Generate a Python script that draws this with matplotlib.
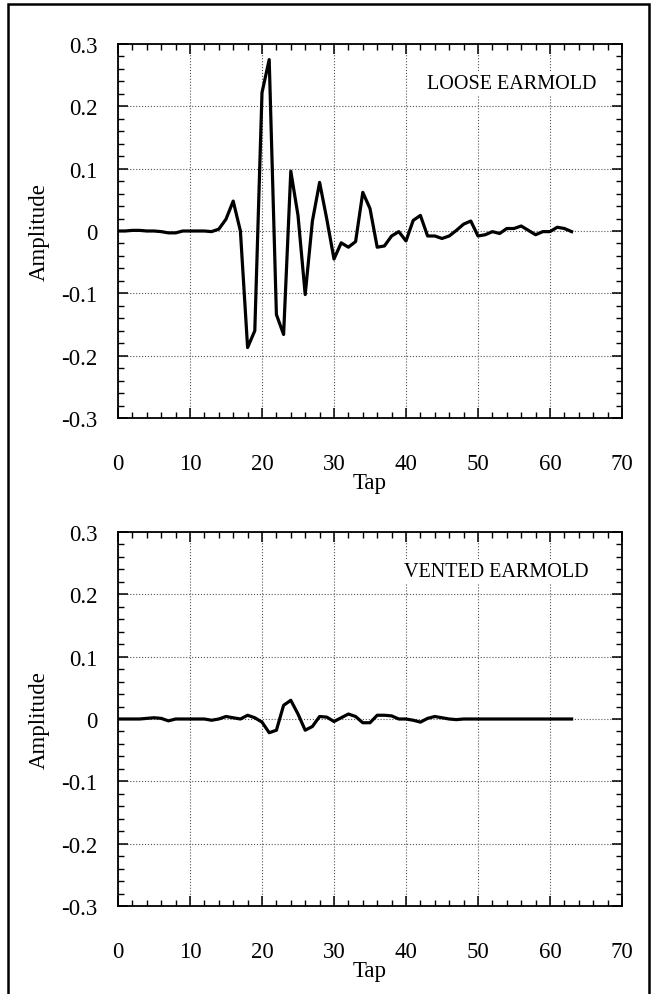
import numpy as np
import matplotlib
matplotlib.use("Agg")
import matplotlib.pyplot as plt
from matplotlib.ticker import MultipleLocator
from matplotlib.patches import Rectangle

# impulse response taps
taps = list(range(64))

loose = [0, 0, 0.001, 0.001, 0, 0, -0.001, -0.003, -0.003, 0,
         0, 0, 0, -0.001, 0.003, 0.019, 0.048, 0, -0.187, -0.16,
         0.222, 0.275, -0.134, -0.166, 0.096, 0.025, -0.102, 0.016, 0.078, 0.019,
         -0.045, -0.019, -0.026, -0.017, 0.062, 0.036, -0.026, -0.024, -0.008, -0.001,
         -0.016, 0.017, 0.025, -0.008, -0.008, -0.012, -0.008, 0.001, 0.011, 0.016,
         -0.008, -0.006, -0.001, -0.004, 0.004, 0.004, 0.008, 0.001, -0.006, -0.001,
         -0.001, 0.006, 0.004, -0.001]

vented = [0, 0, 0, 0, 0.001, 0.002, 0.001, -0.003, 0, 0,
          0, 0, 0, -0.002, 0, 0.004, 0.002, 0, 0.006, 0.002,
          -0.005, -0.022, -0.018, 0.022, 0.03, 0.008, -0.018, -0.012, 0.004, 0.003,
          -0.004, 0.002, 0.008, 0.004, -0.006, -0.006, 0.006, 0.006, 0.005, 0,
          0, -0.002, -0.005, 0.001, 0.004, 0.002, 0, -0.001, 0, 0,
          0, 0, 0, 0, 0, 0, 0, 0, 0, 0,
          0, 0, 0, 0]

yticks = [-0.3, -0.2, -0.1, 0, 0.1, 0.2, 0.3]
ytick_labels = ['-0.3', '-0.2', '-0.1', '0', '0.1', '0.2', '0.3']

# (values, label, label x in axes fraction)
panels = [(loose, "LOOSE EARMOLD", 0.950), (vented, "VENTED EARMOLD", 0.933)]

plt.rcParams['font.family'] = ['Liberation Serif', 'DejaVu Serif']

fig = plt.figure(figsize=(6.51, 9.95), dpi=100)
# frame around the whole figure, as in the scan
fig.patches.append(Rectangle((8 / 651, -0.01), (649 - 8) / 651, 1 - 5 / 995 + 0.01,
                             transform=fig.transFigure, fill=False,
                             edgecolor='black', linewidth=1.8))

bottoms = [1 - 419 / 995, 1 - 907 / 995]
for (vals, label, lx), b in zip(panels, bottoms):
    ax = fig.add_axes([118 / 651, b, 504 / 651, 374 / 995])
    ax.plot(taps, vals, color='black', linewidth=2.3)
    ax.set_xlim(0, 70)
    ax.set_ylim(-0.3, 0.3)
    ax.xaxis.set_major_locator(MultipleLocator(10))
    ax.xaxis.set_minor_locator(MultipleLocator(2))
    ax.set_yticks(yticks)
    ax.set_yticklabels(ytick_labels)
    ax.yaxis.set_minor_locator(MultipleLocator(0.02))
    ax.tick_params(which='both', direction='in', top=True, right=True, labelsize=16.5)
    ax.tick_params(which='major', length=7, width=1.1)
    ax.tick_params(which='minor', length=4, width=1.0)
    ax.tick_params(axis='x', which='major', pad=25)
    ax.tick_params(axis='y', which='major', pad=15)
    ax.grid(True, which='major', linestyle=':', linewidth=0.8, color='#555555')
    for s in ax.spines.values():
        s.set_linewidth(1.3)
    ax.set_xlabel('Tap', fontsize=16.5, labelpad=-1)
    ax.set_ylabel('Amplitude', fontsize=16.5, labelpad=8)
    ax.text(lx, 0.895, label, transform=ax.transAxes, ha='right', va='center',
            fontsize=14.5, bbox=dict(facecolor='white', edgecolor='none', pad=2))

fig.savefig("out.png", dpi=100)
